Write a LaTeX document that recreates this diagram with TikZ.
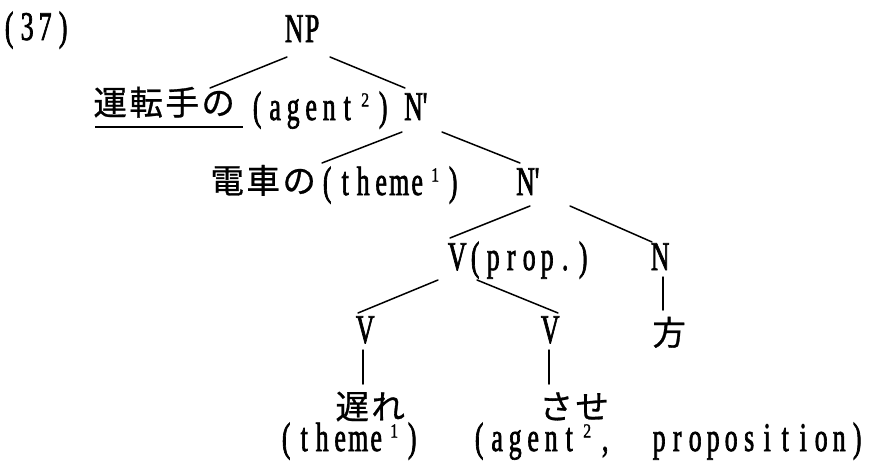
\documentclass[tikz,border=0pt]{standalone}
\usepackage{fontspec}
\newfontfamily\latfam[FakeStretch=0.63,FakeBold=1.6]{Liberation Serif}
\newfontfamily\supfam[FakeStretch=0.8,FakeBold=1.2]{Liberation Serif}
\newfontfamily\jpfam[FakeBold=0.8]{Noto Sans CJK JP}
\newcommand\latf{\latfam\fontsize{40.8pt}{44pt}\selectfont}
\newcommand\jpf{\jpfam\fontsize{33.5pt}{36pt}\selectfont}
\newcommand\supn[1]{\raisebox{13.5pt}{\supfam\fontsize{20pt}{20pt}\selectfont #1}}
\ExplSyntaxOn
\NewDocumentCommand\mono{m}{\tl_map_inline:nn{#1}{\makebox[18pt][c]{##1}}}
\NewDocumentCommand\jmono{m}{\tl_map_inline:nn{#1}{\makebox[36pt][c]{##1}}}
\ExplSyntaxOff
\tikzset{
  lat/.style={inner sep=0pt, anchor=base west, font=\latf},
  jp/.style={inner sep=0pt, anchor=base west, font=\jpf},
  edge/.style={line width=1.5pt, line cap=round},
}
\begin{document}
\begin{tikzpicture}[x=1pt,y=-1pt]
\fill[white] (0,0) rectangle (872,463);
\useasboundingbox (0,0) rectangle (872,463);
% labels
\node[lat] (ex) at (0,40) {\mono{(37)}};
\node[lat] (np) at (285,42) {\mono{NP}};
\node[jp]  (unten) at (92,115) {\jmono{運転手の}};
\node[lat] (agent1) at (248,120) {\mono{(agent{\supn{2}})}};
\node[lat] (n1) at (404,120) {N'};
\node[jp]  (densha) at (209,193) {\jmono{電車の}};
\node[lat] (theme1) at (318,195) {\mono{(theme{\supn{1}})}};
\node[lat] (n2) at (516,195) {N'};
\node[lat] (vprop) at (448,270) {\mono{V(prop.)}};
\node[lat] (nn) at (651,270) {\mono{N}};
\node[lat] (vl) at (356,343) {\mono{V}};
\node[lat] (vr) at (541,343) {\mono{V}};
\node[jp]  (kata) at (651,345) {\jmono{方}};
\node[jp]  (okure) at (334,419) {\jmono{遅れ}};
\node[jp]  (sase) at (538,419) {\jmono{させ}};
\node[lat] (theme2) at (277,451) {\mono{(theme{\supn{1}})}};
\node[lat] (agent2) at (470,451) {\mono{(agent{\supn{2}},{}{}proposition)}};
% underline
\draw[line width=1.8pt] ([shift={(3,12)}]unten.base west) -- ([shift={(151,12)}]unten.base west);
% connectors
\draw[edge] ([shift={(2,15)}]np.base west) -- ([shift={(118,-27)}]unten.base west);
\draw[edge] ([shift={(45,15)}]np.base west) -- ([shift={(1,-32)}]n1.base west);
\draw[edge] ([shift={(-2,12)}]n1.base west) -- ([shift={(4,-32)}]theme1.base west);
\draw[edge] ([shift={(38,12)}]n1.base west) -- ([shift={(4,-32)}]n2.base west);
\draw[edge] ([shift={(14,11)}]n2.base west) -- ([shift={(2,-32)}]vprop.base west);
\draw[edge] ([shift={(54,11)}]n2.base west) -- ([shift={(1,-28)}]nn.base west);
\draw[edge] ([shift={(-10,10)}]vprop.base west) -- ([shift={(2,-30)}]vl.base west);
\draw[edge] ([shift={(29,10)}]vprop.base west) -- ([shift={(17,-30)}]vr.base west);
\draw[edge] ([shift={(12,7)}]nn.base west) -- ([shift={(12,-35)}]kata.base west);
\draw[edge] ([shift={(7,7)}]vl.base west) -- ([shift={(29,-35)}]okure.base west);
\draw[edge] ([shift={(8,7)}]vr.base west) -- ([shift={(11,-35)}]sase.base west);
\end{tikzpicture}
\end{document}
